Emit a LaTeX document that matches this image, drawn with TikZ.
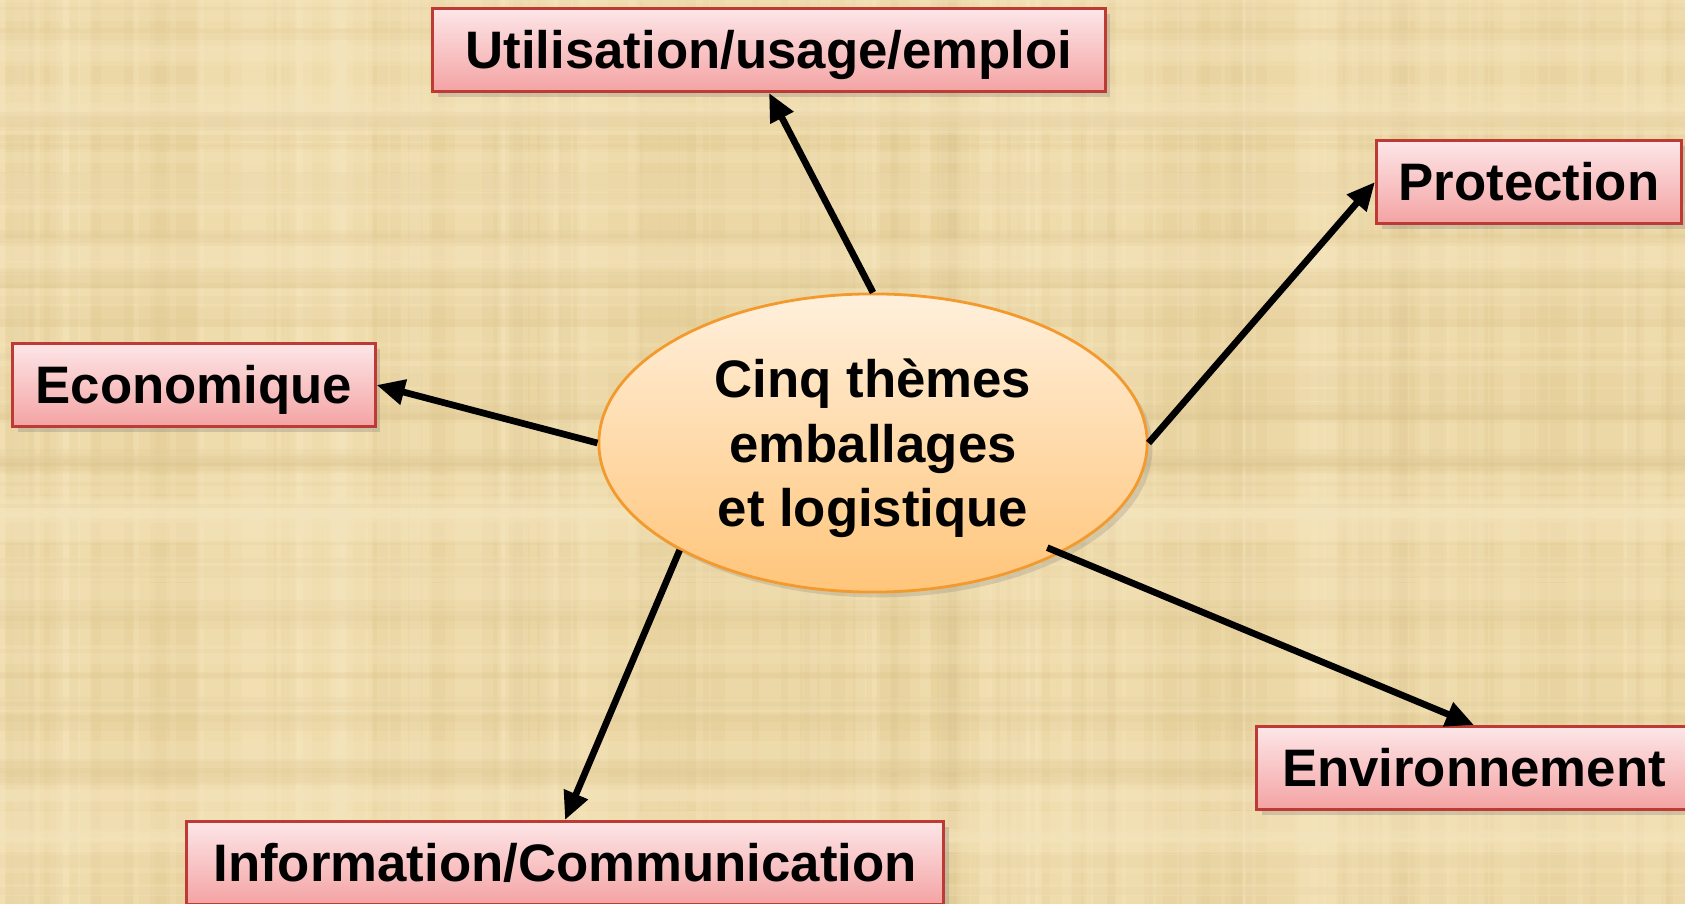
\documentclass[tikz,border=0pt]{standalone}
\usepackage{fontspec}
\setmainfont{Liberation Sans}
\usepackage{tikz}
\usetikzlibrary{shapes.geometric,arrows.meta,positioning,shadows,calc}

\definecolor{paper}{HTML}{ECD8A6}
\definecolor{paperlight}{HTML}{F6E6BF}
\definecolor{paperdark}{HTML}{D9C088}
\definecolor{boxtop}{HTML}{FDE6E8}
\definecolor{boxbottom}{HTML}{F4A3A3}
\definecolor{boxline}{HTML}{BE3A34}
\definecolor{hubtop}{HTML}{FFF0DC}
\definecolor{hubbottom}{HTML}{FFC57A}
\definecolor{hubline}{HTML}{F39A2E}

\begin{document}
\begin{tikzpicture}[
  x=0.01cm, y=-0.01cm,
  theme/.style={
    rectangle, minimum height=0.83cm,
    text height=10.7pt, text depth=0pt,
    top color=boxtop, bottom color=boxbottom,
    draw=boxline, line width=0.8pt,
    text=black, font=\fontsize{15}{18}\selectfont\bfseries,
    drop shadow={shadow xshift=1.5pt, shadow yshift=-1.5pt, opacity=0.3}
  },
  hub/.style={
    ellipse, minimum width=5.48cm, minimum height=2.98cm,
    text depth=0pt,
    top color=hubtop, bottom color=hubbottom,
    draw=hubline, line width=0.8pt, align=center,
    font=\fontsize{15}{18.3}\selectfont\bfseries,
    drop shadow={shadow xshift=1.5pt, shadow yshift=-1.5pt, opacity=0.25}
  },
  arrow/.style={-{Triangle[length=8pt,width=7pt]}, line width=1.9pt, draw=black}
]
% parchment background
\fill[paper] (0,0) rectangle (1685,904);
\begin{scope}
  \clip (0,0) rectangle (1685,904);
  \pgfmathsetseed{11}
  \foreach \k in {1,...,80}{
    \pgfmathsetmacro{\px}{rnd*1685}
    \pgfmathsetmacro{\pw}{1+rnd*10}
    \draw[line width=\pw, draw=paperlight, opacity=0.3] (\px,0) -- (\px,904);
  }
  \foreach \k in {1,...,80}{
    \pgfmathsetmacro{\px}{rnd*1685}
    \pgfmathsetmacro{\pw}{1+rnd*6}
    \draw[line width=\pw, draw=paperdark, opacity=0.15] (\px,0) -- (\px,904);
  }
  \foreach \k in {1,...,50}{
    \pgfmathsetmacro{\py}{rnd*904}
    \pgfmathsetmacro{\pw}{1+rnd*8}
    \draw[line width=\pw, draw=paperlight, opacity=0.25] (0,\py) -- (1685,\py);
  }
  \foreach \k in {1,...,50}{
    \pgfmathsetmacro{\py}{rnd*904}
    \pgfmathsetmacro{\pw}{1+rnd*5}
    \draw[line width=\pw, draw=paperdark, opacity=0.13] (0,\py) -- (1685,\py);
  }
\end{scope}
\useasboundingbox (0,0) rectangle (1685,904);

% centre
\node[hub] (centre) at (873,443) {Cinq thèmes\\emballages\\et logistique};

% the five themes
\node[theme, minimum width=6.72cm] (usage)   at (769,50)    {Utilisation/usage/emploi};
\node[theme, minimum width=3.05cm] (protect) at (1529,182)  {Protection};
\node[theme, minimum width=3.62cm] (eco)     at (194,385)   {Economique};
\node[theme, minimum width=7.57cm] (info)    at (565,863)   {Information/Communication};
\node[theme, minimum width=4.35cm] (env)     at (1474,768)  {Environnement};

% arrows
\draw[arrow] (centre.north) -- (usage.south);
\draw[arrow] (centre.east)  -- (protect.west);
\draw[arrow] (centre.west)  -- (eco.east);
\draw[arrow] (centre.209)   -- (info.north);
\draw[arrow] ($(centre.center)!0.94!(centre.329)$) -- (env.north);
\end{tikzpicture}
\end{document}
